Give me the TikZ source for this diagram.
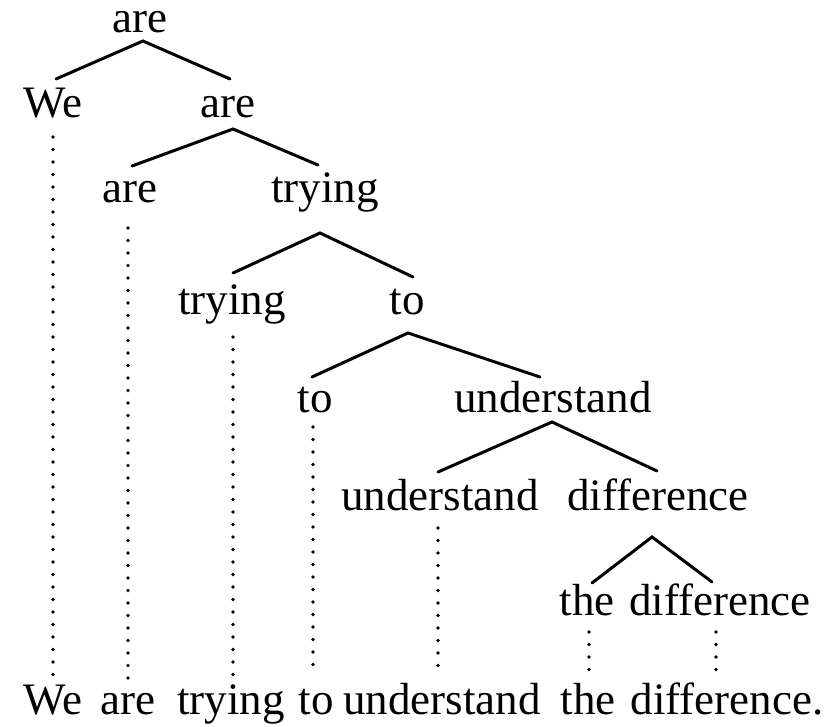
\documentclass[tikz,border=0pt]{standalone}
\usepackage{fontspec}
\setmainfont{Liberation Serif}
\usetikzlibrary{calc}
\tikzset{
  word/.style={anchor=base, inner sep=0pt, font=\fontsize{45}{50}\selectfont},
  branch/.style={line width=3pt, line cap=round},
  dotline/.style={line width=3.6pt, line cap=round, dash pattern=on 0pt off 12.5pt}
}
\begin{document}
\begin{tikzpicture}[x=1pt,y=-1pt]
\useasboundingbox (0,0) rectangle (833,727);
% tree nodes
\node[word] (n0) at (140,33) {are};
\node[word] (n1) at (53,118) {We};
\node[word] (n2) at (228,118) {are};
\node[word] (n3) at (130,203) {are};
\node[word] (n4) at (325,203) {trying};
\node[word] (n5) at (232,315) {trying};
\node[word] (n6) at (407,315) {to};
\node[word] (n7) at (315,412) {to};
\node[word] (n8) at (553,412) {understand};
\node[word] (n9) at (440,510) {understand};
\node[word] (n10) at (658,510) {difference};
\node[word] (n11) at (587,615) {the};
\node[word] (n12) at (720,615) {difference};
% sentence
\node[word] (b1) at (53,714) {We};
\node[word] (b2) at (128,714) {are};
\node[word] (b3) at (231,714) {trying};
\node[word] (b4) at (316,714) {to};
\node[word] (b5) at (442,714) {understand};
\node[word] (b6) at (588,714) {the};
\node[word] (b7) at (727,714) {difference.};
% branches
\draw[branch] ($(n1.base)+(3,-39)$) -- ($(n0.base)+(3,8)$) -- ($(n2.base)+(2,-39)$);
\draw[branch] ($(n3.base)+(2,-37)$) -- ($(n2.base)+(5,11)$) -- ($(n4.base)+(-7,-38)$);
\draw[branch] ($(n5.base)+(1,-42)$) -- ($(n4.base)+(-5,30)$) -- ($(n6.base)+(6,-38)$);
\draw[branch] ($(n7.base)+(-3,-35)$) -- ($(n6.base)+(1,18)$) -- ($(n8.base)+(-13,-35)$);
\draw[branch] ($(n9.base)+(-2,-38)$) -- ($(n8.base)+(-1,10)$) -- ($(n10.base)+(-1,-39)$);
\draw[branch] ($(n11.base)+(5,-32)$) -- ($(n10.base)+(-6,27)$) -- ($(n12.base)+(-8,-33)$);
% dotted projections
\draw[dotline] ($(n1.base)+(0,19)$) -- ($(b1.base)+(0,-39)$);
\draw[dotline] ($(n3.base)+(-2,25)$) -- ($(b2.base)+(0,-36)$);
\draw[dotline] ($(n5.base)+(1,22)$) -- ($(b3.base)+(2,-29)$);
\draw[dotline] ($(n7.base)+(-2,15)$) -- ($(b4.base)+(-3,-44)$);
\draw[dotline] ($(n9.base)+(-2,18)$) -- ($(b5.base)+(-4,-42)$);
\draw[dotline] ($(n11.base)+(2,17)$) -- ($(b6.base)+(1,-42)$);
\draw[dotline] ($(n12.base)+(-4,17)$) -- ($(b7.base)+(-11,-42)$);
\end{tikzpicture}
\end{document}
